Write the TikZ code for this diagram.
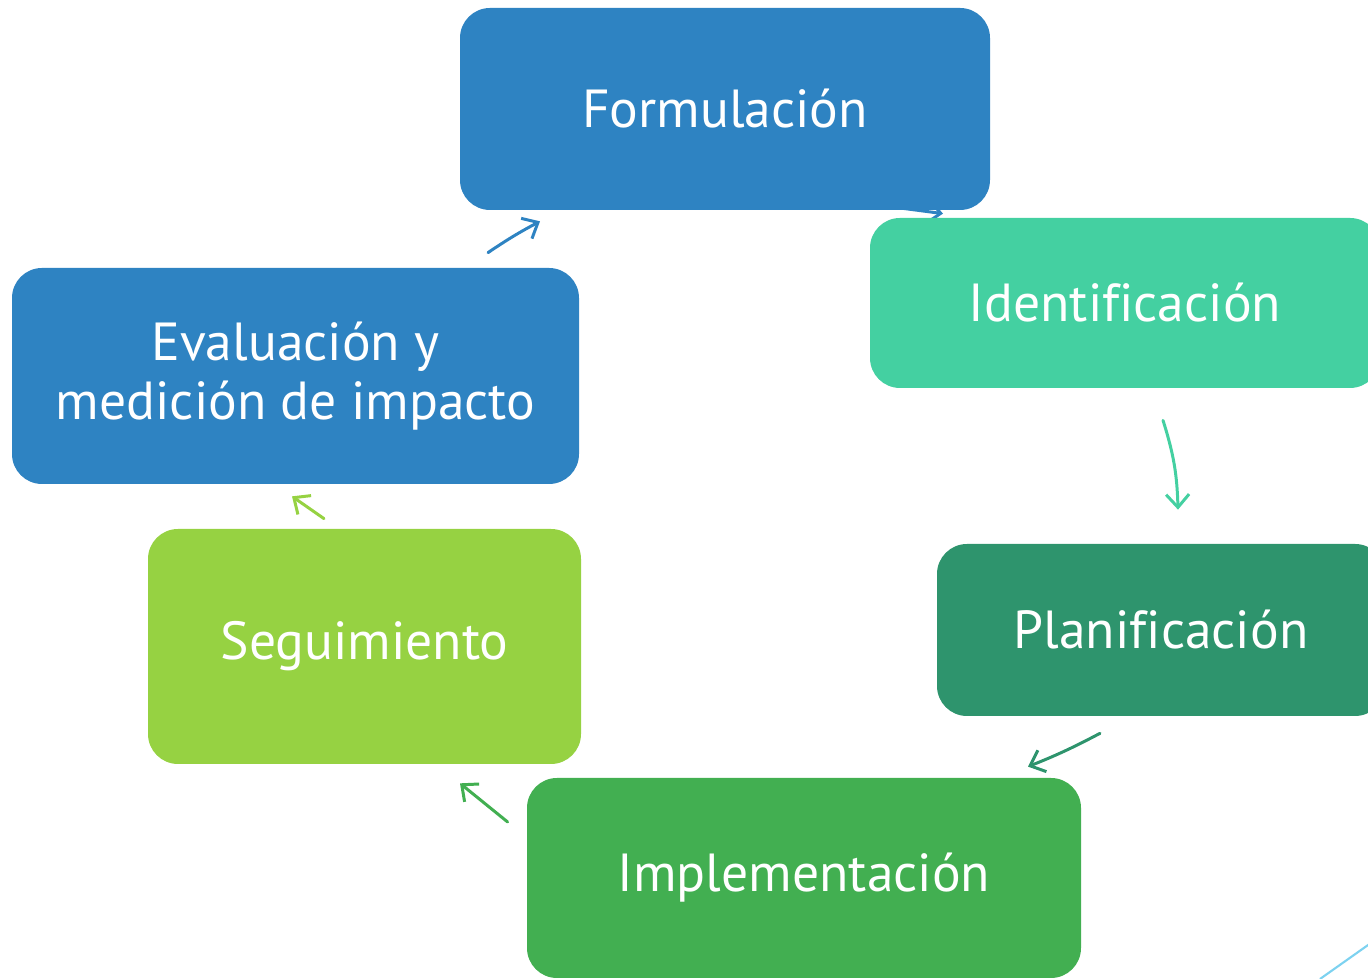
\documentclass[tikz,border=0pt]{standalone}
\usepackage{fontspec}
\setmainfont{PT Sans}[Ligatures=NoCommon]
\usepackage{xcolor}
\usepackage{tikz}
\usetikzlibrary{arrows.meta}
\usetikzlibrary{backgrounds}
\definecolor{cblue}{RGB}{46,131,194}
\definecolor{cteal}{RGB}{68,208,161}
\definecolor{cdark}{RGB}{46,148,109}
\definecolor{cgreen}{RGB}{66,175,81}
\definecolor{clime}{RGB}{150,210,66}
\definecolor{csky}{RGB}{125,210,240}
\tikzset{
    stage/.style = {rectangle, rounded corners=0.6cm, draw=none, align=center, text=white, font=\fontsize{30.5}{34}\selectfont},
    link/.style = {-{Straight Barb[length=2.6mm,width=4.6mm]}, line width=1.7pt, line cap=round},
}

\begin{document}
\begin{tikzpicture}[
    x=1cm, y=1cm
]
\useasboundingbox (0,0) rectangle (27.36,19.58);
\clip (0,0) rectangle (27.36,19.58);
\node[stage, fill=cblue, minimum width=10.6cm, minimum height=4.04cm] at (14.5,17.4) (formulacion) {Formulación};
\node[stage, fill=cteal, minimum width=10.2cm, minimum height=3.4cm] at (22.5,13.52) (identificacion) {Identificación};
\node[stage, fill=cdark, minimum width=8.96cm, minimum height=3.44cm] at (23.22,6.98) (planificacion) {Planificación};
\node[stage, fill=cgreen, minimum width=11.08cm, minimum height=4.0cm] at (16.08,2.02) (implementacion) {Implementación};
\node[stage, fill=clime, minimum width=8.66cm, minimum height=4.7cm] at (7.29,6.65) (seguimiento) {Seguimiento};
\node[stage, fill=cblue, minimum width=11.34cm, minimum height=4.32cm] at (5.91,12.06) (evaluacion) {Evaluación y\\medición de impacto};
\begin{scope}[on background layer]
\draw[link, cblue] ([xshift=3.1cm,yshift=0.1cm]formulacion.south) -- ([xshift=-3.64cm,yshift=0.08cm]identificacion.north);
\end{scope}
\draw[link, cteal] ([xshift=0.76cm,yshift=-0.64cm]identificacion.south) to[bend left=8] ([xshift=0.34cm,yshift=0.68cm]planificacion.north);
\draw[link, cdark] ([xshift=-1.22cm,yshift=-0.34cm]planificacion.south) to[bend left=3] ([xshift=4.48cm,yshift=0.22cm]implementacion.north);
\draw[link, cgreen] ([xshift=-0.38cm,yshift=1.12cm]implementacion.west) -- ([xshift=1.91cm,yshift=-0.38cm]seguimiento.south);
\draw[link, clime] ([xshift=-0.81cm,yshift=0.2cm]seguimiento.north) -- ([xshift=-0.07cm,yshift=-0.24cm]evaluacion.south);
\draw[link, cblue] ([xshift=3.85cm,yshift=0.3cm]evaluacion.north) to[bend left=3] ([xshift=-3.7cm,yshift=-0.22cm]formulacion.south);
% trazo decorativo
\draw[csky, line width=1.2pt] (26.4,0) -- (27.8,0.99);
\end{tikzpicture}
\end{document}
